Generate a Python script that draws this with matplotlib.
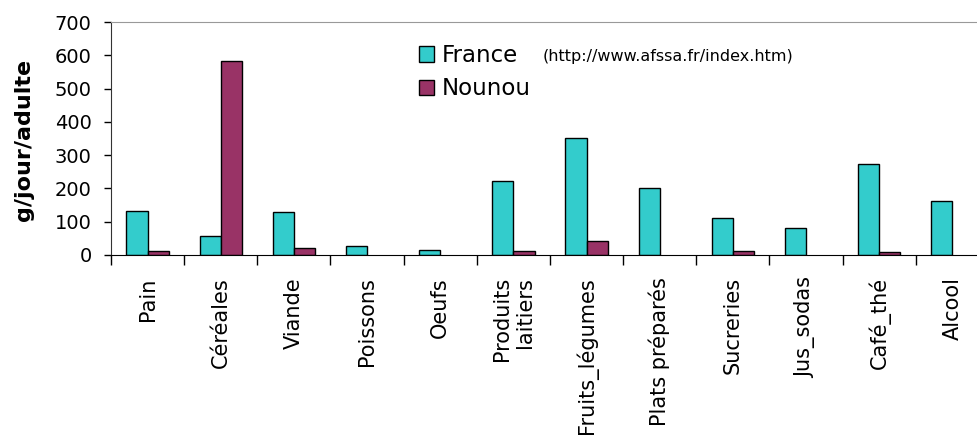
import numpy as np
import matplotlib
matplotlib.use("Agg")
import matplotlib.pyplot as plt

# consumption in g/day/adult
categories = ["Pain", "Céréales", "Viande", "Poissons", "Oeufs",
              "Produits\nlaitiers", "Fruits_légumes", "Plats préparés",
              "Sucreries", "Jus_sodas", "Café_thé", "Alcool"]
france = [132, 57, 129, 28, 16, 223, 352, 202, 111, 82, 273, 161]
nounou = [12, 583, 21, 0, 0, 12, 41, 0, 12, 0, 8, 0]
yticks = [0, 100, 200, 300, 400, 500, 600, 700]
source = "(http://www.afssa.fr/index.htm)"

plt.rcParams['font.family'] = ['DejaVu Sans']

fig = plt.figure(figsize=(9.78, 4.41), dpi=100)
ax = fig.add_axes([111/978, 1 - 255/441, 878/978, 233/441])

x = np.arange(len(categories)) + 0.5
w = 0.29
# empty values get no bar at all (no flat outline on the axis)
fr = np.where(np.array(france) == 0, np.nan, france)
nn = np.where(np.array(nounou) == 0, np.nan, nounou)
ax.bar(x - w/2, fr, w, color='#33CCCC', edgecolor='black', linewidth=1.0, label='France')
ax.bar(x + w/2, nn, w, color='#993366', edgecolor='black', linewidth=1.0, label='Nounou')

ax.set_xlim(0, len(categories))
ax.set_ylim(0, 700)
ax.set_yticks(yticks)
ax.tick_params(axis='y', labelsize=14, length=5, width=1, pad=9, direction='out')

# ticks between categories, labels at category centres
ax.set_xticks(np.arange(len(categories) + 1))
ax.set_xticklabels([])
ax.set_xticks(x, minor=True)
ax.set_xticklabels(categories, minor=True, rotation=90, va='top', ha='center',
                   ma='right', fontsize=15)
ax.tick_params(axis='x', which='major', length=7, width=1, direction='out')
ax.tick_params(axis='x', which='minor', length=0, pad=16)

ax.spines['right'].set_visible(False)
ax.spines['top'].set_color('#999999')
ax.spines['left'].set_color('#333333')
ax.spines['bottom'].set_color('black')

fig.text(24/978, 1 - 140/441, "g/jour/adulte", fontsize=16, fontweight='bold',
         rotation=90, ha='center', va='center')

ax.legend(loc='upper left', bbox_to_anchor=(419/978, 1 - 44/441),
          bbox_transform=fig.transFigure, frameon=False, fontsize=16.5,
          handlelength=0.65, handleheight=0.65, handletextpad=0.35,
          labelspacing=0.45, borderpad=0, borderaxespad=0)
fig.text(543/978, 1 - 57/441, source, fontsize=11.5, ha='left', va='center')

fig.savefig("out.png", dpi=100)
